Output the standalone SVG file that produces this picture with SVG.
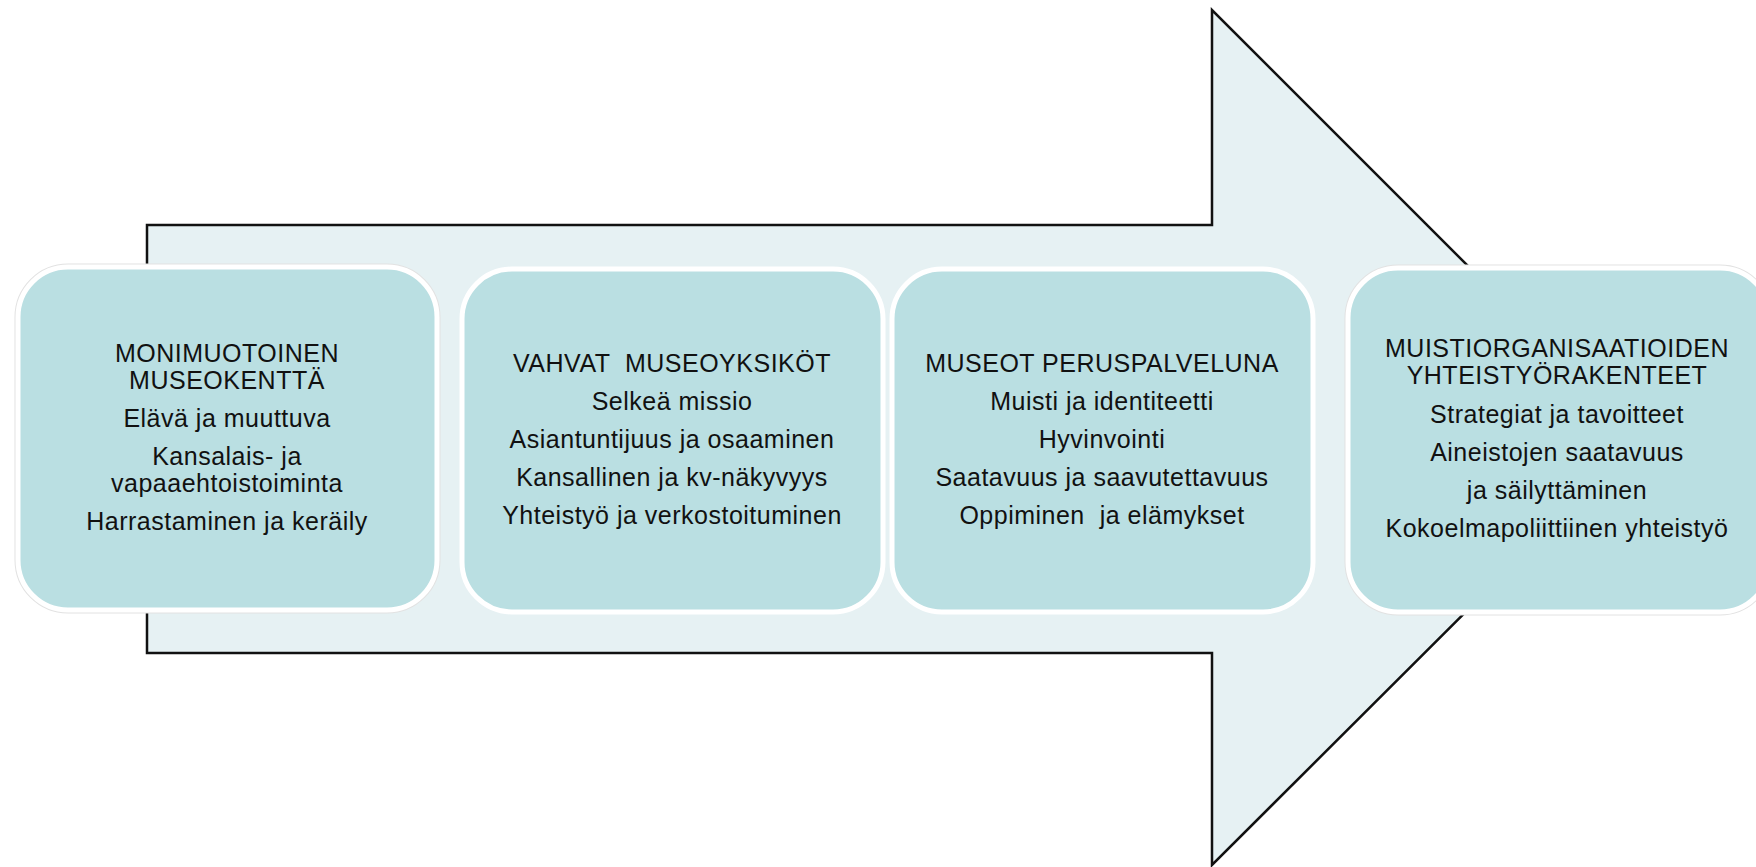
<svg xmlns="http://www.w3.org/2000/svg" width="1756" height="867" viewBox="0 0 1756 867">
<style>
.arrow{fill:#E6F1F3;stroke:#111;stroke-width:2.5;stroke-linejoin:miter}
.halo{fill:none;stroke:#e2e2e2;stroke-width:7}
.box{fill:#BADFE2;stroke:#fff;stroke-width:5}
text{font-family:"Liberation Sans",Arial,sans-serif;font-size:25px;fill:#111;text-anchor:middle;letter-spacing:0.5px;white-space:pre}
</style>
<rect width="1756" height="867" fill="#fff"/>
<g id="arrow">
<path class="arrow" d="M147,225 L1212,225 L1212,10 L1640,438 L1212,865 L1212,653 L147,653 Z"/>
</g>
<g id="connectors"></g>
<g id="node1">
<rect class="halo" x="18" y="267" width="419" height="343" rx="50"/>
<rect class="box" x="18" y="267" width="419" height="343" rx="50"/>
<text x="227" y="362">MONIMUOTOINEN</text>
<text x="227" y="389">MUSEOKENTTÄ</text>
<text x="227" y="427">Elävä ja muuttuva</text>
<text x="227" y="465">Kansalais- ja</text>
<text x="227" y="492">vapaaehtoistoiminta</text>
<text x="227" y="530">Harrastaminen ja keräily</text>
</g>
<g id="node2">
<rect class="box" x="462" y="269" width="421" height="343" rx="50"/>
<text x="672" y="372" xml:space="preserve">VAHVAT  MUSEOYKSIKÖT</text>
<text x="672" y="410">Selkeä missio</text>
<text x="672" y="448">Asiantuntijuus ja osaaminen</text>
<text x="672" y="486">Kansallinen ja kv-näkyvyys</text>
<text x="672" y="524">Yhteistyö ja verkostoituminen</text>
</g>
<g id="node3">
<rect class="box" x="892" y="269" width="421" height="343" rx="50"/>
<text x="1102" y="372">MUSEOT PERUSPALVELUNA</text>
<text x="1102" y="410">Muisti ja identiteetti</text>
<text x="1102" y="448">Hyvinvointi</text>
<text x="1102" y="486">Saatavuus ja saavutettavuus</text>
<text x="1102" y="524" xml:space="preserve">Oppiminen  ja elämykset</text>
</g>
<g id="node4">
<rect class="halo" x="1348" y="268" width="422" height="344" rx="50"/>
<rect class="box" x="1348" y="268" width="422" height="344" rx="50"/>
<text x="1557" y="357">MUISTIORGANISAATIOIDEN</text>
<text x="1557" y="384">YHTEISTYÖRAKENTEET</text>
<text x="1557" y="423">Strategiat ja tavoitteet</text>
<text x="1557" y="461">Aineistojen saatavuus</text>
<text x="1557" y="499">ja säilyttäminen</text>
<text x="1557" y="537">Kokoelmapoliittiinen yhteistyö</text>
</g>
</svg>
